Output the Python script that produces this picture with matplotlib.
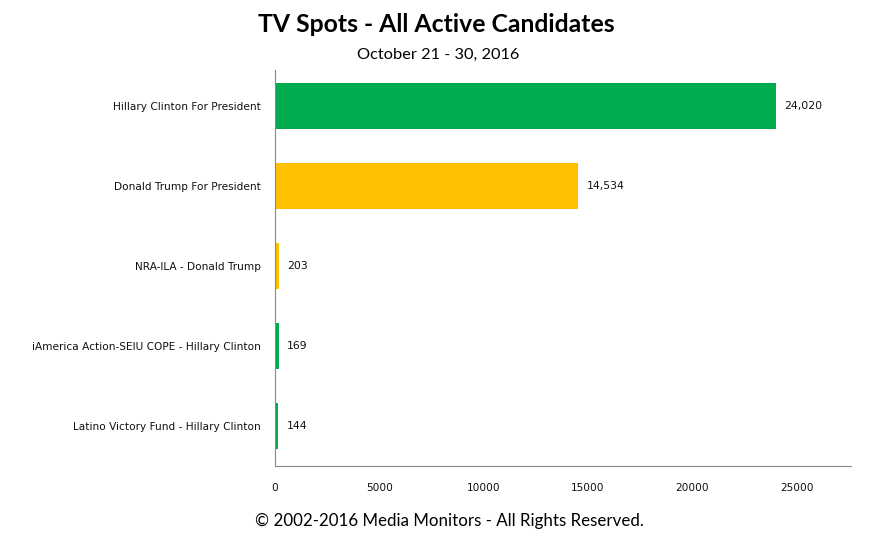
import matplotlib
matplotlib.use('Agg')
from matplotlib import pyplot as plt

labels = ['Hillary Clinton For President', 'Donald Trump For President', 'NRA-ILA - Donald Trump',
          'iAmerica Action-SEIU COPE - Hillary Clinton', 'Latino Victory Fund - Hillary Clinton']
spots = [24020, 14534, 203, 169, 144]
colors = ['#00AC4E', '#FFC000', '#FFC000', '#00AC4E', '#00AC4E']
xticks = [0, 5000, 10000, 15000, 20000, 25000]

fig = plt.figure(figsize=(8.82, 5.4), dpi=100)
ax = fig.add_axes([0.3118, 0.137, 0.653, 0.733])

ypos = list(range(len(labels)))
ax.barh(ypos, spots, height=0.575, color=colors)
for y, v in zip(ypos, spots):
    ax.text(v + 400, y, f'{v:,}', va='center', ha='left', fontsize=7.8, color='#111111')

ax.set_yticks(ypos)
ax.set_yticklabels(labels, fontsize=7.6, color='#111111')
ax.set_xticks(xticks)
ax.set_xticklabels([str(t) for t in xticks], fontsize=7.6, color='#111111')
ax.set_xlim(0, 27600)
ax.set_ylim(4.5, -0.45)
ax.tick_params(length=0, axis='y', pad=10)
ax.tick_params(length=0, axis='x', pad=12)
for s in ['top', 'right']:
    ax.spines[s].set_visible(False)
for s in ['left', 'bottom']:
    ax.spines[s].set_color('#898989')

fig.text(0.495, 0.955, 'TV Spots - All Active Candidates', ha='center', va='center',
         fontsize=17.8, fontweight='bold', family='Lato')
fig.text(0.497, 0.898, 'October 21 - 30, 2016', ha='center', va='center', fontsize=11.8, family='Lato')
fig.text(0.51, 0.035, '© 2002-2016 Media Monitors - All Rights Reserved.', ha='center', va='center',
         fontsize=12.2, family='Lato')

fig.savefig('out.png', dpi=100)
